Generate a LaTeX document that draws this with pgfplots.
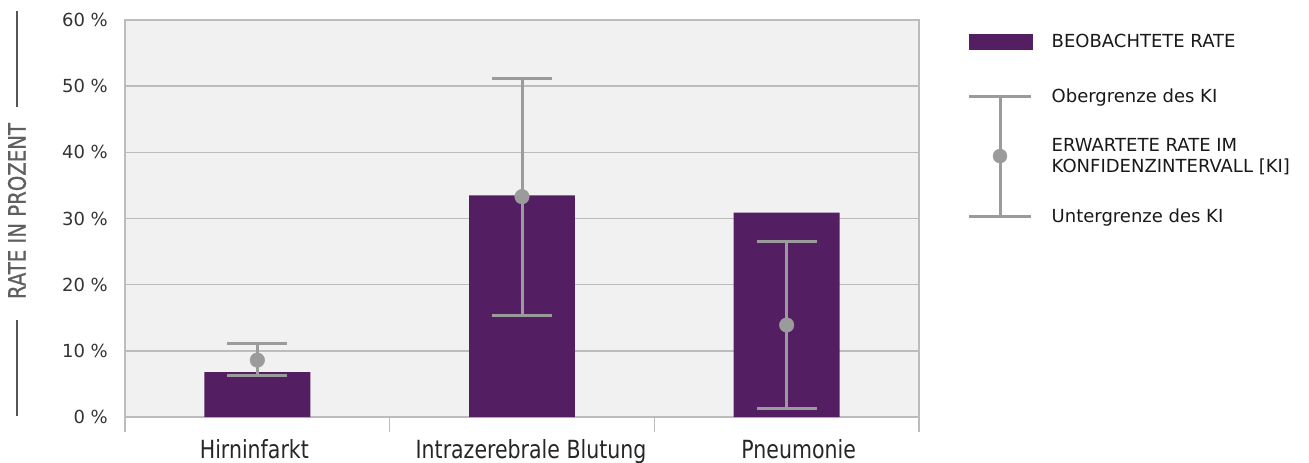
\documentclass[border=0pt]{standalone}
\usepackage{fontspec}
\setmainfont{DejaVu Sans}
\newfontfamily\condfont[FakeStretch=0.82]{DejaVu Sans}
\newfontfamily\condboldfont[FakeStretch=0.82, FakeBold=0.5]{DejaVu Sans}
\usepackage{pgfplots}
\pgfplotsset{compat=1.18}

\definecolor{barcol}{RGB}{83,31,98}
\definecolor{errcol}{RGB}{155,155,155}
\definecolor{gridcol}{RGB}{188,188,188}
\definecolor{bgcol}{RGB}{241,241,241}
\definecolor{labcol}{RGB}{95,95,95}
\definecolor{rulecol}{RGB}{85,85,85}
\definecolor{tickcol}{RGB}{51,51,51}

\begin{document}
\begin{tikzpicture}
\begin{axis}[
    scale only axis,
    width=794pt, height=397pt,
    xmin=-0.5, xmax=2.5,
    ymin=0, ymax=60,
    xtick={0,1,2},
    xticklabels={Hirninfarkt\hspace*{6pt}, \hspace*{18pt}Intrazerebrale Blutung, \hspace*{24pt}Pneumonie},
    minor xtick={-0.5,0.5,1.5,2.5},
    ytick={0,10,...,60},
    major tick length=0pt,
    minor tick length=15pt,
    tick align=outside,
    tick pos=left,
    minor tick style={gridcol, line width=1.5pt},
    ymajorgrids,
    major grid style={gridcol, line width=1.5pt},
    axis line style={gridcol, line width=1.5pt},
    axis background/.style={fill=bgcol},
    yticklabel={\pgfmathprintnumber[assume math mode=true]{\tick}~\%},
    yticklabel style={font=\fontsize{18}{20}\selectfont, text=tickcol, inner sep=0pt, anchor=east, xshift=-17pt},
    xticklabel style={font=\condfont\fontsize{25}{28}\selectfont, text=black!85, inner sep=0pt, anchor=north, yshift=-22pt},
    ylabel={{\color{rulecol}\rule[8pt]{96pt}{2pt}}\hspace{21pt}RATE IN PROZENT\hspace{16pt}{\color{rulecol}\rule[8pt]{96pt}{2pt}}},
    ylabel style={font=\condboldfont\fontsize{24}{26}\selectfont, text=labcol, inner sep=0pt,
        at={(axis description cs:-0.136,0.5126)}, anchor=center, rotate=0},
    legend style={at={(axis description cs:1.0617,1.005)}, anchor=north west,
        draw=none, fill=none, inner sep=0pt, outer sep=0pt, column sep=19pt, row sep=0pt,
        nodes={font=\fontsize{18}{21}\selectfont, text=black!90, align=left, inner sep=0pt, minimum height=60pt}},
    legend cell align=left,
]
\coordinate (O) at (rel axis cs:0,0);

\addplot[ybar, bar width=0.4, bar shift=0pt, fill=barcol, draw=none, forget plot]
    coordinates {(0,6.8) (1,33.5) (2,30.9)};

\addplot[only marks, mark=*, mark size=7.3pt, color=errcol, forget plot,
    error bars/.cd, y dir=both, y explicit,
    error bar style={line width=3pt, errcol},
    error mark options={rotate=90, mark size=30pt, line width=3pt, errcol}]
    table[x=x, y=y, y error plus=ep, y error minus=em] {
x y ep em
0 8.6 2.5 2.4
1 33.3 17.9 18.0
2 13.9 12.7 12.6
};

\addlegendimage{legend image code/.code={\fill[barcol] (0pt,-7.5pt) rectangle (63pt,7.5pt);}}
\addlegendentry[minimum height=48pt]{BEOBACHTETE RATE}
\addlegendimage{legend image code/.code={
    \draw[errcol, line width=3pt] (0pt,0pt) -- (61pt,0pt);
    \draw[errcol, line width=3pt, overlay] (30.5pt,0pt) -- (30.5pt,-120pt);
    \draw[errcol, line width=3pt, overlay] (0pt,-120pt) -- (61pt,-120pt);
    \fill[errcol, overlay] (30.5pt,-60pt) circle (7pt);}}
\addlegendentry{Obergrenze des KI}
\addlegendimage{legend image code/.code={\path[draw=none, fill=none] (0pt,0pt) -- (61pt,0pt);}}
\addlegendentry{ERWARTETE RATE IM\\KONFIDENZINTERVALL [KI]}
\addlegendimage{legend image code/.code={\path[draw=none, fill=none] (0pt,0pt) -- (61pt,0pt);}}
\addlegendentry{Untergrenze des KI}
\end{axis}
\pgfresetboundingbox
\path[use as bounding box] ([shift={(-125pt,-46pt)}]O) rectangle ([shift={(1184pt,417pt)}]O);
\end{tikzpicture}
\end{document}
